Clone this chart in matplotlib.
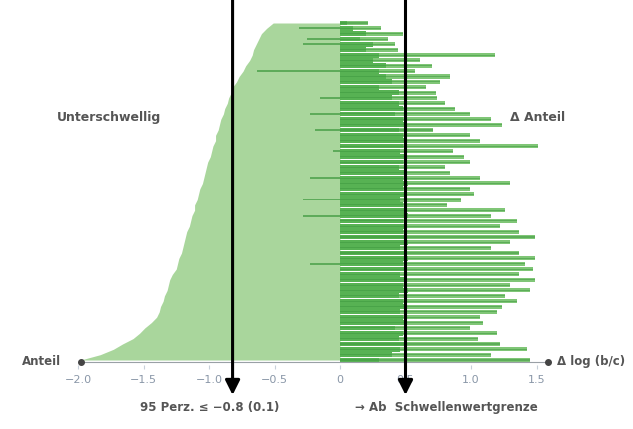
import matplotlib
matplotlib.use('Agg')
import matplotlib.pyplot as plt
import numpy as np

# left (negative) edge of the light area, one value per row, top to bottom
left_vals = [-0.51, -0.56, -0.60, -0.62, -0.64, -0.66, -0.67, -0.69, -0.72, -0.74,
             -0.77, -0.79, -0.82, -0.83, -0.85, -0.86, -0.88, -0.89, -0.91, -0.92,
             -0.93, -0.95, -0.95, -0.97, -0.98, -0.99, -1.01, -1.02, -1.03, -1.04,
             -1.05, -1.07, -1.08, -1.09, -1.11, -1.11, -1.13, -1.14, -1.15, -1.17,
             -1.18, -1.19, -1.20, -1.21, -1.23, -1.24, -1.25, -1.28, -1.30, -1.31,
             -1.32, -1.34, -1.35, -1.37, -1.38, -1.40, -1.44, -1.49, -1.53, -1.58,
             -1.66, -1.73, -1.83, -1.98]

# right (positive) extent of each row
right_vals = [0.21, 0.31, 0.48, 0.37, 0.42, 0.44, 1.18, 0.61, 0.70, 0.57,
              0.84, 0.76, 0.66, 0.73, 0.74, 0.80, 0.88, 0.99, 1.15, 1.24,
              0.71, 0.99, 1.07, 1.51, 0.86, 0.95, 0.99, 0.80, 0.84, 1.07,
              1.30, 0.99, 1.02, 0.92, 0.82, 1.26, 1.15, 1.35, 1.22, 1.37,
              1.49, 1.30, 1.15, 1.37, 1.49, 1.41, 1.47, 1.37, 1.49, 1.30,
              1.45, 1.26, 1.35, 1.24, 1.20, 1.07, 1.09, 0.99, 1.20, 1.05,
              1.22, 1.43, 1.15, 1.45]

# darker core part of the right bars
core_vals = [0.05, 0.10, 0.20, 0.15, 0.25, 0.20, 0.30, 0.25, 0.35, 0.30,
             0.35, 0.40, 0.30, 0.45, 0.40, 0.45, 0.48, 0.42, 0.48, 0.50,
             0.45, 0.48, 0.50, 0.48, 0.46, 0.50, 0.48, 0.45, 0.50, 0.48,
             0.52, 0.48, 0.50, 0.46, 0.48, 0.50, 0.52, 0.48, 0.50, 0.48,
             0.50, 0.52, 0.46, 0.50, 0.52, 0.48, 0.50, 0.46, 0.50, 0.48,
             0.52, 0.45, 0.48, 0.50, 0.46, 0.48, 0.50, 0.42, 0.48, 0.45,
             0.50, 0.46, 0.40, 0.30]

# short dark strokes inside the light area
neg_vals = [0.0, -0.31, 0.0, -0.25, -0.28, 0.0, 0.0, 0.0, 0.0, -0.63,
            0.0, 0.0, 0.0, 0.0, -0.15, 0.0, 0.0, -0.23, 0.0, 0.0,
            -0.19, 0.0, 0.0, 0.0, -0.05, 0.0, 0.0, 0.0, 0.0, -0.23,
            0.0, 0.0, 0.0, -0.28, 0.0, 0.0, -0.28, 0.0, 0.0, 0.0,
            0.0, 0.0, 0.0, 0.0, 0.0, -0.23, 0.0, 0.0, 0.0, 0.0,
            0.0, 0.0, 0.0, 0.0, 0.0, 0.0, 0.0, 0.0, 0.0, 0.0,
            0.0, 0.0, 0.0, 0.0]

tick_vals = [-2.0, -1.5, -1.0, -0.5, 0.0, 0.5, 1.0, 1.5]
tick_labels = ['\u22122.0', '\u22121.5', '\u22121.0', '\u22120.5', '0', '0.5', '1.0', '1.5']
thresholds = [-0.82, 0.50]
threshold_labels = ['95 Perz. \u2264 \u22120.8 (0.1)', '\u2192 Ab  Schwellenwertgrenze']

LIGHT = '#a9d69c'
MID = '#80c677'
DARK = '#57b253'
STROKE = '#3f9a3f'
TEXT = '#555555'

fig = plt.figure(figsize=(6.33, 4.29), dpi=100)
ax = fig.add_axes([0, 64 / 429, 1, 365 / 429])

rows = np.arange(len(left_vals))
ax.fill_betweenx(rows, left_vals, 0, color=LIGHT, lw=0)
ax.barh(rows, neg_vals, height=0.35, color=STROKE, alpha=0.7, lw=0)
ax.barh(rows, right_vals, height=0.75, color=MID, lw=0)
ax.barh(rows, core_vals, height=0.9, color=DARK, lw=0)
ax.barh(rows, right_vals, height=0.2, color=STROKE, alpha=0.55, lw=0)

# baseline with end markers
ax.plot([left_vals[-1], 1.59], [63.3, 63.3], color='#9aa0a6', lw=0.8)
ax.plot([left_vals[-1], 1.59], [63.3, 63.3], 'o', ms=4, color='#444444',
        clip_on=False)

ax.set_xlim(-340 / 131, 293 / 131)
ax.set_ylim(63.93, -4.30)
for s in ax.spines.values():
    s.set_visible(False)
ax.set_yticks([])
ax.set_xticks(tick_vals)
ax.set_xticklabels(tick_labels, fontsize=8, color='#8a97a8')
ax.tick_params(axis='x', length=3, color='#c8d0da', pad=4)

ax.text(left_vals[-1] - 0.15, 63.3, 'Anteil', ha='right', va='center',
        fontsize=8.5, color=TEXT, fontweight='bold')
ax.text(1.66, 63.3, '\u0394 log (b/c)', ha='left', va='center',
        fontsize=8.5, color=TEXT, fontweight='bold')

ax.text(-1.76, 17.6, 'Unterschwellig', ha='center', va='center',
        fontsize=9, color=TEXT, fontweight='bold')
ax.text(1.51, 17.6, '\u0394 Anteil', ha='center', va='center',
        fontsize=9, color=TEXT, fontweight='bold')

label_x = [210, 446]
for t, lab, lx in zip(thresholds, threshold_labels, label_x):
    ax.annotate('', xy=(t, 34 / 429), xytext=(t, 1.0),
                xycoords=('data', 'figure fraction'),
                textcoords=('data', 'figure fraction'),
                arrowprops=dict(arrowstyle='-|>', lw=2.2, color='black',
                                mutation_scale=22, shrinkA=0, shrinkB=0),
                annotation_clip=False)
    fig.text(lx / 633, 21 / 429, lab, ha='center', va='center',
             fontsize=8.5, color=TEXT, fontweight='bold')

fig.savefig('out.png', dpi=100, facecolor='white')
